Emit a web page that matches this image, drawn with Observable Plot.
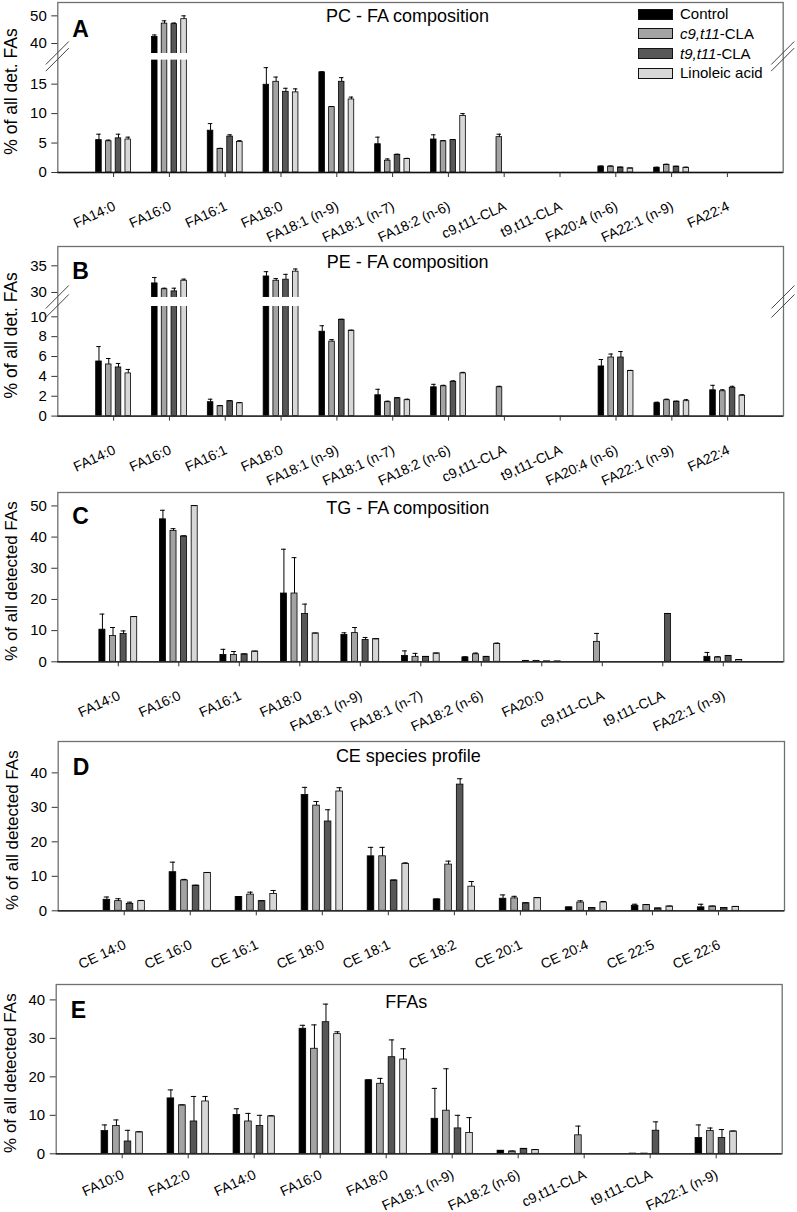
<!DOCTYPE html>
<html><head><meta charset="utf-8">
<script src="https://cdn.jsdelivr.net/npm/d3@7"></script>
<script src="https://cdn.jsdelivr.net/npm/@observablehq/plot@0.6"></script>
<style>
html,body{margin:0;padding:0;background:#fff;overflow:hidden;}
#root{position:relative;width:797px;height:1212px;overflow:hidden;font-family:"Liberation Sans",Arial,sans-serif;}
#root svg{position:absolute;left:0;}
#legend{position:absolute;left:638px;top:4.4px;font-size:15px;z-index:5;font-family:"Liberation Sans",Arial,sans-serif;}
#legend .row{height:19.7px;line-height:19.7px;display:flex;align-items:center;white-space:nowrap;}
#legend .sw{display:inline-block;width:33px;height:9px;border:1px solid #111;margin-right:7px;}
</style></head><body><div id="root"></div><script>
// ---- series ----
const seriesNames = ["Control", "c9,t11-CLA", "t9,t11-CLA", "Linoleic acid"];
const seriesItalic = ["", "c9,t11", "t9,t11", ""];
const colors = ["#000000", "#a3a3a3", "#575757", "#d7d7d7"];

// ---- A: PC ----
const pcCats = ["FA14:0","FA16:0","FA16:1","FA18:0","FA18:1 (n-9)","FA18:1 (n-7)","FA18:2 (n-6)","c9,t11-CLA","t9,t11-CLA","FA20:4 (n-6)","FA22:1 (n-9)","FA22:4"];
const pcControl   = [5.5, 42.4, 7.1, 14.9, 17.0, 4.8, 5.6, 0, 0, 1.0, 0.8, 0];
const pcControlSD = [1.0, 0.7, 1.2, 2.9, 0.1, 1.2, 0.8, 0, 0, 0.1, 0.1, 0];
const pcC9        = [5.3, 47.2, 4.0, 15.4, 11.1, 2.0, 5.3, 6.0, 0, 1.0, 1.3, 0];
const pcC9SD      = [0.2, 1.0, 0.1, 0.8, 0.1, 0.3, 0.1, 0.5, 0, 0.1, 0.1, 0];
const pcT9        = [5.8, 47.0, 6.1, 13.7, 15.4, 3.0, 5.5, 0, 0, 0.85, 1.0, 0];
const pcT9SD      = [0.7, 0.4, 0.3, 0.6, 0.7, 0.1, 0.1, 0, 0, 0.05, 0.05, 0];
const pcLA        = [5.6, 48.8, 5.2, 13.6, 12.4, 2.3, 9.6, 0, 0, 0.7, 0.8, 0];
const pcLASD      = [0.4, 1.2, 0.2, 0.6, 0.4, 0.1, 0.4, 0, 0, 0.05, 0.1, 0];
const pcTicks = [0, 5, 10, 15, 40, 50];

// ---- B: PE ----
const peCats = pcCats;
const peControl   = [5.5, 31.7, 1.4, 33.0, 8.5, 2.1, 2.9, 0, 0, 5.0, 1.3, 2.6];
const peControlSD = [1.5, 1.1, 0.3, 0.9, 0.6, 0.6, 0.3, 0, 0, 0.7, 0.1, 0.5];
const peC9        = [5.2, 30.6, 1.0, 32.2, 7.5, 1.4, 3.0, 2.9, 0, 5.9, 1.6, 2.5];
const peC9SD      = [0.6, 0.2, 0.05, 0.4, 0.2, 0.1, 0.1, 0.1, 0, 0.35, 0.1, 0.15];
const peT9        = [4.9, 30.2, 1.5, 32.4, 9.7, 1.8, 3.45, 0, 0, 5.9, 1.45, 2.85];
const peT9SD      = [0.4, 0.6, 0.05, 1.0, 0.05, 0.05, 0.1, 0, 0, 0.6, 0.05, 0.15];
const peLA        = [4.3, 32.2, 1.3, 33.9, 8.6, 1.6, 4.3, 0, 0, 4.55, 1.5, 2.05];
const peLASD      = [0.4, 0.3, 0.05, 0.5, 0.05, 0.1, 0.1, 0, 0, 0.05, 0.15, 0.1];
const peTicks = [0, 2, 4, 6, 8, 10, 30, 35];

// ---- C: TG ----
const tgCats = ["FA14:0","FA16:0","FA16:1","FA18:0","FA18:1 (n-9)","FA18:1 (n-7)","FA18:2 (n-6)","FA20:0","c9,t11-CLA","t9,t11-CLA","FA22:1 (n-9)"];
const tgControl   = [10.3, 45.7, 2.2, 21.9, 8.6, 1.9, 1.4, 0.3, 0, 0, 1.6];
const tgControlSD = [5.0, 2.9, 1.8, 14.2, 0.7, 1.6, 0.2, 0, 0, 0, 1.4];
const tgC9        = [8.3, 42.0, 2.2, 21.9, 9.2, 1.6, 2.4, 0.3, 6.4, 0, 1.4];
const tgC9SD      = [2.7, 0.7, 1.1, 11.5, 1.8, 1.1, 0.4, 0, 2.7, 0, 0.2];
const tgT9        = [8.9, 40.2, 2.4, 15.3, 7.0, 1.6, 1.6, 0.15, 0, 15.3, 1.9];
const tgT9SD      = [1.0, 0.2, 0.1, 3.2, 0.8, 0.1, 0.1, 0, 0, 0.2, 0.1];
const tgLA        = [14.4, 50.0, 3.3, 9.1, 7.3, 2.7, 5.7, 0.15, 0, 0, 0.6];
const tgLASD      = [0.1, 0.1, 0.1, 0.1, 0.05, 0.05, 0.3, 0, 0, 0, 0.1];
const tgTicks = [0, 10, 20, 30, 40, 50];

// ---- D: CE ----
const ceCats = ["CE 14:0","CE 16:0","CE 16:1","CE 18:0","CE 18:1","CE 18:2","CE 20:1","CE 20:4","CE 22:5","CE 22:6"];
const ceControl   = [3.2, 11.2, 4.0, 33.6, 15.8, 3.3, 3.5, 1.0, 1.45, 1.0];
const ceControlSD = [0.8, 2.9, 0.1, 2.2, 2.6, 0.1, 1.1, 0.05, 0.45, 0.9];
const ceC9        = [2.8, 8.8, 4.7, 30.5, 15.8, 13.4, 3.6, 2.4, 1.7, 1.25];
const ceC9SD      = [0.7, 0.3, 0.7, 1.2, 2.6, 1.0, 0.6, 0.5, 0.1, 0.1];
const ceT9        = [2.0, 7.3, 2.8, 25.9, 8.8, 36.6, 2.2, 0.8, 0.7, 0.8];
const ceT9SD      = [0.5, 0.1, 0.1, 3.4, 0.1, 1.7, 0.1, 0.05, 0.05, 0.05];
const ceLA        = [2.8, 11.0, 4.9, 34.6, 13.6, 7.0, 3.7, 2.4, 1.25, 1.15];
const ceLASD      = [0.2, 0.1, 1.0, 1.1, 0.3, 1.5, 0.1, 0.3, 0.1, 0.1];
const ceTicks = [0, 10, 20, 30, 40];

// ---- E: FFA ----
const ffaCats = ["FA10:0","FA12:0","FA14:0","FA16:0","FA18:0","FA18:1 (n-9)","FA18:2 (n-6)","c9,t11-CLA","t9,t11-CLA","FA22:1 (n-9)"];
const ffaControl   = [5.9, 14.4, 10.1, 32.5, 19.1, 9.1, 0.8, 0, 0.05, 4.1];
const ffaControlSD = [1.6, 2.2, 1.6, 0.9, 0.1, 7.9, 0.05, 0, 0, 3.4];
const ffaC9        = [7.2, 12.6, 8.4, 27.3, 18.2, 11.2, 0.6, 4.8, 0.05, 5.9];
const ffaC9SD      = [1.6, 0.1, 2.1, 6.2, 1.4, 10.9, 0.1, 2.4, 0, 0.8];
const ffaT9        = [3.2, 8.4, 7.2, 34.2, 25.1, 6.6, 1.3, 0, 6.0, 4.1];
const ffaT9SD      = [2.9, 6.5, 2.8, 4.7, 4.5, 3.4, 0.05, 0, 2.3, 2.2];
const ffaLA        = [5.6, 13.6, 9.7, 31.1, 24.5, 5.4, 1.0, 0, 0, 5.8];
const ffaLASD      = [0.1, 1.3, 0.2, 0.6, 2.8, 4.0, 0.1, 0, 0, 0.1];
const ffaTicks = [0, 10, 20, 30, 40];

// ---- drawing ----
function findArgs(args) {
  const scales = args.find(a => a && typeof a.y === "function");
  const dims = args.find(a => a && typeof a === "object" && "marginLeft" in a);
  return {scales, dims};
}
function gapMark(b) {
  return function(...args) {
    const {scales, dims} = findArgs(args);
    const t0 = b.L * b.kL, t1 = t0 + b.gap;
    const y0 = scales.y(t0), y1 = scales.y(t1);
    const g = d3.create("svg:g");
    g.append("rect").attr("x", dims.marginLeft + 0.7)
      .attr("width", dims.width - dims.marginLeft - dims.marginRight - 1.4)
      .attr("y", y1).attr("height", y0 - y1).attr("fill", "#fff");
    return g.node();
  };
}
function breakMarks(b) {
  return function(...args) {
    const {scales, dims} = findArgs(args);
    const t0 = b.L * b.kL, t1 = t0 + b.gap;
    const g = d3.create("svg:g").attr("stroke", "#444").attr("stroke-width", 1);
    for (const cx of [dims.marginLeft, dims.width - dims.marginRight]) {
      for (const yy of [scales.y(t1), scales.y(t0)]) {
        g.append("line").attr("x1", cx - 11.5).attr("y1", yy + 11.5).attr("x2", cx + 11.5).attr("y2", yy - 11.5);
      }
    }
    return g.node();
  };
}

function makePanel(p) {
  const n = p.cats.length;
  const b = p.brk;
  const f = b ? (v => v <= b.L ? v * b.kL : b.L * b.kL + b.gap + (v - b.U0) * b.kU) : (v => v);
  const off = s => (s - 1.5) * 0.175, hw = 0.05, cw = 0.04;
  const rows = [];
  p.means.forEach((arr, s) => arr.forEach((v, i) => { if (v > 0) rows.push({i, s, v, sd: p.sds[s][i]}); }));
  const errs = rows.filter(d => d.sd > 0);
  const marks = [];
  for (let s = 0; s < 4; s++) {
    marks.push(Plot.rectY(rows.filter(d => d.s === s), {
      x1: d => d.i + off(s) - hw, x2: d => d.i + off(s) + hw,
      y1: 0, y2: d => f(d.v), fill: colors[s], stroke: "#000", strokeWidth: 0.8
    }));
  }
  marks.push(Plot.ruleX(errs, {x: d => d.i + off(d.s), y1: d => f(d.v), y2: d => f(d.v + d.sd), stroke: "#000", strokeWidth: 1}));
  marks.push(Plot.ruleY(errs, {y: d => f(d.v + d.sd), x1: d => d.i + off(d.s) - cw, x2: d => d.i + off(d.s) + cw, stroke: "#000", strokeWidth: 1}));
  if (b) marks.push(gapMark(b));
  marks.push(Plot.frame({stroke: "#707070", strokeWidth: 1.3}));
  marks.push(Plot.ruleY([0], {stroke: "#111", strokeWidth: 1.3}));
  if (b) marks.push(breakMarks(b));
  const tickT = p.yTicks.map(f);
  const lab = new Map(tickT.map((t, k) => [t, String(p.yTicks[k])]));
  marks.push(Plot.axisY({ticks: tickT, tickFormat: t => lab.get(t), tickSize: 6, tickPadding: 5, fontSize: 15, label: null, stroke: "#333"}));
  marks.push(Plot.axisX({ticks: d3.range(n), tickFormat: () => "", tickSize: 5, label: null, stroke: "#333"}));
  marks.push(Plot.text(d3.range(n), {x: d => d, text: d => p.cats[d], frameAnchor: "bottom", rotate: -25,
    textAnchor: "end", lineAnchor: "middle", dx: 1, dy: p.labelDy, fontSize: 14}));
  marks.push(Plot.text([p.title], {text: d => d, frameAnchor: "top", dx: -13, dy: p.titleDy, lineAnchor: "top", fontSize: 18}));
  marks.push(Plot.text([p.letter], {text: d => d, frameAnchor: "top-left", dx: 14.5, dy: p.letterDy, lineAnchor: "top", textAnchor: "start", fontSize: 23, fontWeight: "bold"}));
  marks.push(Plot.text([p.ylabel], {text: d => d, frameAnchor: "left", rotate: -90, dx: -46, dy: 4, fontSize: p.ylabelSize, textAnchor: "middle", lineAnchor: "middle"}));

  const mt = 2;
  const svg = Plot.plot({
    width: 797, height: mt + p.H + p.mb,
    marginTop: mt, marginBottom: p.mb, marginLeft: p.ml, marginRight: p.mr,
    x: {domain: [-1, n], axis: null},
    y: {domain: b ? [0, p.H] : [0, p.yMax], axis: null},
    style: {fontFamily: "'Liberation Sans', Arial, sans-serif", fontSize: "15px", background: "transparent", overflow: "visible", color: "#000"},
    marks
  });
  svg.style.top = (p.frameTop - mt) + "px";
  return svg;
}

const root = document.getElementById("root");
const panels = [
  {cats: pcCats, means: [pcControl, pcC9, pcT9, pcLA], sds: [pcControlSD, pcC9SD, pcT9SD, pcLASD], yTicks: pcTicks,
   brk: {L: 19.08, kL: 5.89, gap: 6.6, U0: 36.4, kU: 2.77}, H: 170, frameTop: 1.7, mb: 72, ml: 57.3, mr: 14.3, labelDy: 33,
   title: "PC - FA composition", titleDy: 6.6, letter: "A", letterDy: 18, ylabel: "% of all det. FAs", ylabelSize: 17.5},
  {cats: peCats, means: [peControl, peC9, peT9, peLA], sds: [peControlSD, peC9SD, peT9SD, peLASD], yTicks: peTicks,
   brk: {L: 11.04, kL: 9.93, gap: 9, U0: 29.06, kU: 5.33}, H: 169.6, frameTop: 245.7, mb: 72, ml: 57.3, mr: 14, labelDy: 33,
   title: "PE - FA composition", titleDy: 9, letter: "B", letterDy: 16, ylabel: "% of all det. FAs", ylabelSize: 17.5},
  {cats: tgCats, means: [tgControl, tgC9, tgT9, tgLA], sds: [tgControlSD, tgC9SD, tgT9SD, tgLASD], yTicks: tgTicks,
   yMax: 54.3, H: 169.3, frameTop: 491.7, mb: 72, ml: 57.3, mr: 13.7, labelDy: 33,
   title: "TG - FA composition", titleDy: 8.3, letter: "C", letterDy: 15, ylabel: "% of all detected FAs", ylabelSize: 17},
  {cats: ceCats, means: [ceControl, ceC9, ceT9, ceLA], sds: [ceControlSD, ceC9SD, ceT9SD, ceLASD], yTicks: ceTicks,
   yMax: 49.1, H: 169.3, frameTop: 741, mb: 72, ml: 57.7, mr: 13, labelDy: 33,
   title: "CE species profile", titleDy: 7.3, letter: "D", letterDy: 17, ylabel: "% of all detected FAs", ylabelSize: 17},
  {cats: ffaCats, means: [ffaControl, ffaC9, ffaT9, ffaLA], sds: [ffaControlSD, ffaC9SD, ffaT9SD, ffaLASD], yTicks: ffaTicks,
   yMax: 44.0, H: 169.3, frameTop: 984, mb: 56, ml: 55.7, mr: 15.3, labelDy: 20,
   title: "FFAs", titleDy: 11, letter: "E", letterDy: 17.5, ylabel: "% of all detected FAs", ylabelSize: 17}
];
for (const p of panels) root.appendChild(makePanel(p));

// legend (panel A)
const legend = document.createElement("div");
legend.id = "legend";
seriesNames.forEach((name, s) => {
  const row = document.createElement("div"); row.className = "row";
  const sw = document.createElement("span"); sw.className = "sw"; sw.style.background = colors[s];
  row.appendChild(sw);
  const it = seriesItalic[s];
  if (it && name.startsWith(it)) {
    const i = document.createElement("i"); i.textContent = it; row.appendChild(i);
    row.appendChild(document.createTextNode(name.slice(it.length)));
  } else row.appendChild(document.createTextNode(name));
  legend.appendChild(row);
});
root.appendChild(legend);
</script></body></html>
